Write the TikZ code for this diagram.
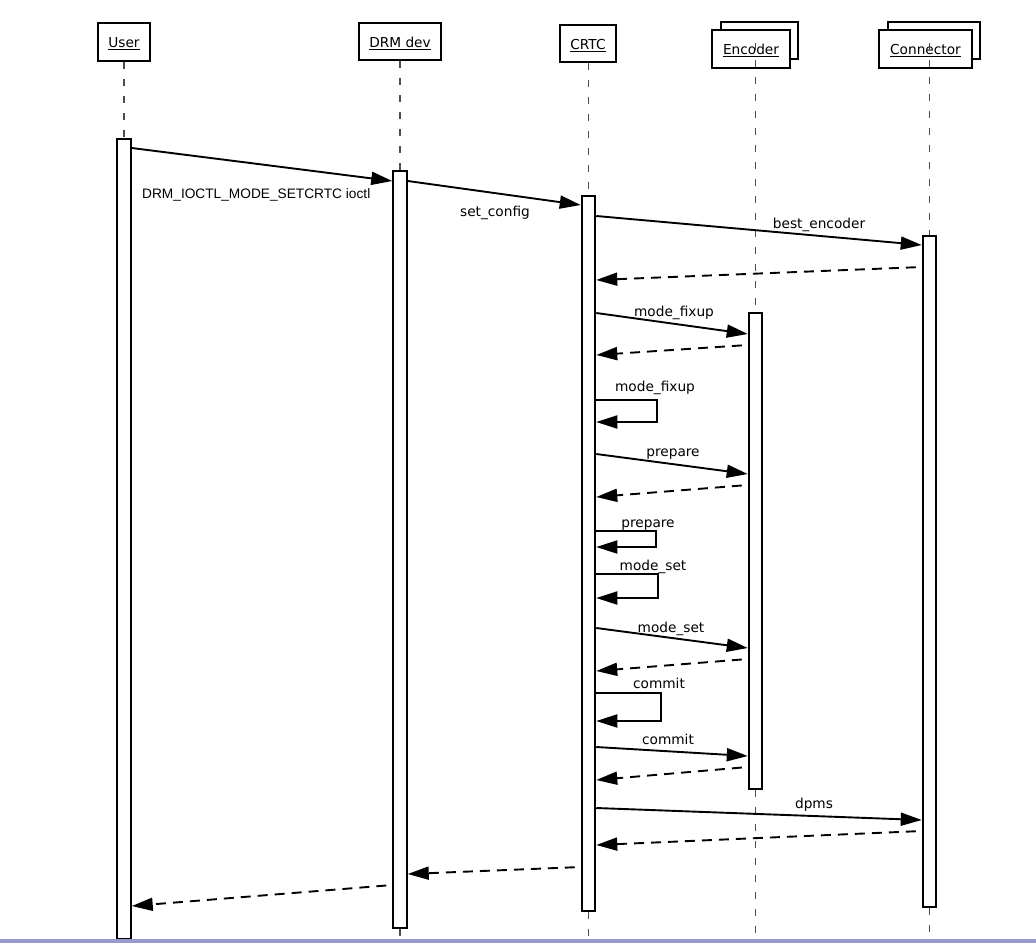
\documentclass[tikz,border=0pt]{standalone}
\usepackage{fontspec}
\setmainfont{DejaVu Sans}
\newfontfamily\libsans{Liberation Sans}
\usetikzlibrary{arrows.meta,calc}
\definecolor{barpurple}{HTML}{9999CC}
\begin{document}
\begin{tikzpicture}[x=1pt,y=-1pt,
  every node/.style={font=\fontsize{13.7pt}{16pt}\selectfont, inner sep=0pt},
  headbox/.style={draw, fill=white, line width=2pt, text height=11.5pt, text depth=0pt},
  actbar/.style={draw, fill=white, line width=2pt, minimum width=13.5pt, anchor=north},
  lifeline/.style={draw=black!70, line width=1.2pt, dash pattern=on 7pt off 10pt},
  msg/.style={line width=1.9pt, -{Triangle[length=21pt,width=13pt]}},
  ret/.style={msg, dash pattern=on 10pt off 7pt, shorten <=6pt},
  lbl/.style={anchor=base}
]
\useasboundingbox (0,0) rectangle (1036,943);

% header boxes
\node[headbox, minimum width=52pt, minimum height=38pt] (user) at (124,42) {\underline{User}};
\node[headbox, minimum width=82pt, minimum height=37pt] (drm) at (400,41.5) {\underline{DRM dev}};
\node[headbox, minimum width=56pt, minimum height=37pt] (crtc) at (588,43.5) {\underline{CRTC}};
\node[headbox, minimum width=77pt, minimum height=37pt] (encback) at (759.5,40.5) {};
\node[headbox, minimum width=78pt, minimum height=38pt] (enc) at (751,49) {\underline{Encoder}};
\node[headbox, minimum width=92pt, minimum height=37pt] (conback) at (934,40.5) {};
\node[headbox, minimum width=93pt, minimum height=38pt] (con) at (925.5,49) {\underline{Connector}};

% activation bars
\node[actbar, minimum height=800pt] (userbar) at (124,138) {};
\node[actbar, minimum height=757pt] (drmbar) at (400,170) {};
\node[actbar, minimum height=715pt] (crtcbar) at (588.5,195) {};
\node[actbar, minimum height=476pt] (encbar) at (755.5,312) {};
\node[actbar, minimum height=671pt] (conbar) at (929.5,235) {};

% lifelines
\draw[lifeline] (user.south) -- (userbar.north);
\draw[lifeline] (userbar.south) -- (userbar.south |- 0,943);
\draw[lifeline] (drm.south) -- (drmbar.north);
\draw[lifeline] (drmbar.south) -- (drmbar.south |- 0,943);
\draw[lifeline] (crtcbar.north |- crtc.south) -- (crtcbar.north);
\draw[lifeline] (crtcbar.south) -- (crtcbar.south |- 0,943);
\draw[lifeline] (encbar.north |- 0,43) -- (encbar.north);
\draw[lifeline] (encbar.south) -- (encbar.south |- 0,943);
\draw[lifeline] (conbar.north |- 0,43) -- (conbar.north);
\draw[lifeline] (conbar.south) -- (conbar.south |- 0,943);

% messages
\draw[msg] (userbar.east |- 0,148) -- (drmbar.west |- 0,181);
\draw[msg] (drmbar.east |- 0,181) -- (crtcbar.west |- 0,205);
\draw[msg] (crtcbar.east |- 0,216) -- (conbar.west |- 0,245);
\draw[ret] (conbar.west |- 0,267) -- (crtcbar.east |- 0,280);
\draw[msg] (crtcbar.east |- 0,313) -- (encbar.west |- 0,334);
\draw[ret] (encbar.west |- 0,345) -- (crtcbar.east |- 0,355);
\draw[msg] (crtcbar.east |- 0,400) -- ++(61,0) |- (crtcbar.east |- 0,422);
\draw[msg] (crtcbar.east |- 0,454) -- (encbar.west |- 0,474);
\draw[ret] (encbar.west |- 0,485) -- (crtcbar.east |- 0,497);
\draw[msg] (crtcbar.east |- 0,531) -- ++(60,0) |- (crtcbar.east |- 0,547);
\draw[msg] (crtcbar.east |- 0,574) -- ++(62,0) |- (crtcbar.east |- 0,598);
\draw[msg] (crtcbar.east |- 0,628) -- (encbar.west |- 0,648);
\draw[ret] (encbar.west |- 0,659) -- (crtcbar.east |- 0,671);
\draw[msg] (crtcbar.east |- 0,693) -- ++(65,0) |- (crtcbar.east |- 0,721);
\draw[msg] (crtcbar.east |- 0,747) -- (encbar.west |- 0,756);
\draw[ret] (encbar.west |- 0,767) -- (crtcbar.east |- 0,780);
\draw[msg] (crtcbar.east |- 0,808) -- (conbar.west |- 0,820);
\draw[ret] (conbar.west |- 0,831) -- (crtcbar.east |- 0,845);
\draw[ret] (crtcbar.west |- 0,867) -- (drmbar.east |- 0,874);
\draw[ret] (drmbar.west |- 0,885) -- (userbar.east |- 0,906);

% labels
\node[anchor=base west, font=\fontsize{13.7pt}{16pt}\libsans] (l1) at (142,198) {DRM\_IOCTL\_MODE\_SETCRTC ioctl};
\node[lbl] (l2) at (495,216) {set\_config};
\node[lbl] (l3) at (819,228) {best\_encoder};
\node[lbl] (l4) at (674,316) {mode\_fixup};
\node[lbl] (l5) at (655,391) {mode\_fixup};
\node[lbl] (l6) at (673,456) {prepare};
\node[lbl] (l7) at (648,527) {prepare};
\node[lbl] (l8) at (653,570) {mode\_set};
\node[lbl] (l9) at (671,632) {mode\_set};
\node[lbl] (l10) at (659,688) {commit};
\node[lbl] (l11) at (668,744) {commit};
\node[lbl] (l12) at (814,808) {dpms};

% bottom bar
\fill[barpurple] (0,939) rectangle (1036,943);
\end{tikzpicture}
\end{document}
